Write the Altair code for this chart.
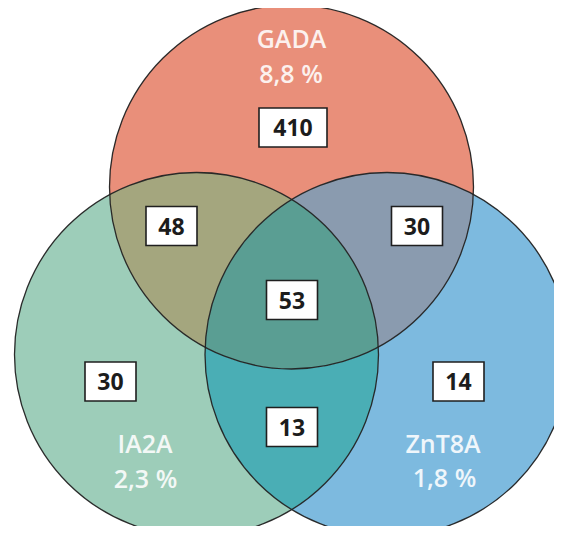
import math
import altair as alt
import pandas as pd

# --- data ---
set_names = ["GADA", "IA2A", "ZnT8A"]
set_pcts = ["8,8 %", "2,3 %", "1,8 %"]
set_cx = [291.5, 196.5, 387.0]
set_cy = [187.0, 354.5, 354.5]
set_r = [182, 182, 182]
name_x = [291.5, 145, 443]
name_y = [48, 453, 453]
pct_x = [291, 145.5, 444.5]
pct_y = [83, 488, 487]

# regions: membership in (GADA, IA2A, ZnT8A) and fill colour
region_ids = ["G", "I", "Z", "GI", "GZ", "IZ", "GIZ"]
region_member = [(1, 0, 0), (0, 1, 0), (0, 0, 1), (1, 1, 0), (1, 0, 1), (0, 1, 1), (1, 1, 1)]
region_colors = ["#E98F7A", "#9DCDB9", "#7DBADF", "#A4A67E", "#8A9BAF", "#4AAEB5", "#5A9E93"]

# counts in boxes
count_labels = ["410", "30", "14", "48", "30", "13", "53"]
count_x = [293, 110.5, 458.5, 171.5, 417, 292, 292]
count_y = [127.5, 381.5, 381.5, 226, 226, 427, 300]


# --- geometry of the region outlines, derived from the circles above ---
def circle_intersections(i, j):
    x0, y0, r0 = set_cx[i], set_cy[i], set_r[i]
    x1, y1, r1 = set_cx[j], set_cy[j], set_r[j]
    d = math.hypot(x1 - x0, y1 - y0)
    a = (r0 * r0 - r1 * r1 + d * d) / (2 * d)
    h = math.sqrt(max(r0 * r0 - a * a, 0))
    xm, ym = x0 + a * (x1 - x0) / d, y0 + a * (y1 - y0) / d
    return [(xm + h * (y1 - y0) / d, ym - h * (x1 - x0) / d),
            (xm - h * (y1 - y0) / d, ym + h * (x1 - x0) / d)]


def inside(p, k):
    return math.hypot(p[0] - set_cx[k], p[1] - set_cy[k]) < set_r[k]


arcs = []
for k in range(3):
    pts = []
    for j in range(3):
        if j != k:
            pts += circle_intersections(k, j)
    angs = sorted(math.atan2(p[1] - set_cy[k], p[0] - set_cx[k]) for p in pts)
    for n in range(len(angs)):
        a0 = angs[n]
        a1 = angs[(n + 1) % len(angs)]
        if a1 <= a0:
            a1 += 2 * math.pi
        am = (a0 + a1) / 2
        mid = (set_cx[k] + set_r[k] * math.cos(am), set_cy[k] + set_r[k] * math.sin(am))
        memb = tuple(int(inside(mid, j)) if j != k else None for j in range(3))
        arcs.append((k, a0, a1, memb))


def arc_points(k, a0, a1, steps=60):
    return [(set_cx[k] + set_r[k] * math.cos(a0 + (a1 - a0) * t / steps),
             set_cy[k] + set_r[k] * math.sin(a0 + (a1 - a0) * t / steps)) for t in range(steps + 1)]


rows = []
for rid, m in zip(region_ids, region_member):
    sel = [a for a in arcs if all(a[3][j] == m[j] for j in range(3) if j != a[0])]
    segs = [arc_points(a[0], a[1], a[2]) for a in sel]
    chain = segs.pop(0)
    while segs:
        end = chain[-1]
        best = None
        for s_i, s in enumerate(segs):
            for rev in (False, True):
                start = s[-1] if rev else s[0]
                dd = math.hypot(start[0] - end[0], start[1] - end[1])
                if best is None or dd < best[0]:
                    best = (dd, s_i, rev)
        s = segs.pop(best[1])
        chain += (s[::-1] if best[2] else s)
    for idx, (px, py) in enumerate(chain):
        rows.append({"region": rid, "i": idx, "x": px, "y": py})

outline = pd.DataFrame(rows)
sets = pd.DataFrame({"name": set_names, "pct": set_pcts, "cx": set_cx, "cy": set_cy,
                     "nx": name_x, "ny": name_y, "px": pct_x, "py": pct_y})
counts_df = pd.DataFrame({"label": count_labels, "rx": count_x, "ry": count_y})

W, H = 546, 518
xs = alt.Scale(domain=[8, 8 + W], nice=False, zero=False)
ys = alt.Scale(domain=[8, 8 + H], nice=False, zero=False, reverse=True)

regions = alt.Chart(outline).mark_line(strokeWidth=0, interpolate="linear").encode(
    x=alt.X("x:Q", scale=xs, axis=None),
    y=alt.Y("y:Q", scale=ys, axis=None),
    fill=alt.Fill("region:N", scale=alt.Scale(domain=region_ids, range=region_colors), legend=None),
    order="i:Q",
)

rings = alt.Chart(sets).mark_point(
    shape="circle", filled=False, stroke="#222222", strokeWidth=1.3, opacity=0.95
).encode(
    x=alt.X("cx:Q", scale=xs, axis=None),
    y=alt.Y("cy:Q", scale=ys, axis=None),
    size=alt.value(364 * 364),
)

names = alt.Chart(sets).mark_text(
    font="Open Sans", fontSize=25, fontWeight=600, color="white", opacity=0.88,
    baseline="alphabetic", align="center"
).encode(
    x=alt.X("nx:Q", scale=xs, axis=None),
    y=alt.Y("ny:Q", scale=ys, axis=None),
    text="name:N",
)

pcts = alt.Chart(sets).mark_text(
    font="Open Sans", fontSize=25, fontWeight=600, color="white", opacity=0.88,
    baseline="alphabetic", align="center"
).encode(
    x=alt.X("px:Q", scale=xs, axis=None),
    y=alt.Y("py:Q", scale=ys, axis=None),
    text="pct:N",
)

boxes = alt.Chart(counts_df).transform_calculate(
    w="17*(length(datum.label)+1)",
    x1="datum.rx - datum.w/2",
    x2="datum.rx + datum.w/2",
    y1="datum.ry - 19.5",
    y2="datum.ry + 19.5",
).mark_rect(fill="white", stroke="#1f1f1f", strokeWidth=1.6).encode(
    x=alt.X("x1:Q", scale=xs, axis=None),
    x2="x2:Q",
    y=alt.Y("y1:Q", scale=ys, axis=None),
    y2="y2:Q",
)

counts = alt.Chart(counts_df).mark_text(
    font="Open Sans", fontSize=23, fontWeight="bold", color="#1c1c1c",
    baseline="alphabetic", align="center", dy=8.5
).encode(
    x=alt.X("rx:Q", scale=xs, axis=None),
    y=alt.Y("ry:Q", scale=ys, axis=None),
    text="label:N",
)

chart = alt.layer(regions, rings, names, pcts, boxes, counts).properties(
    width=W, height=H, padding=0, autosize="none", background="white"
).configure_view(stroke=None)

chart.save("out.html", embed_options={"renderer": "svg", "actions": False})
